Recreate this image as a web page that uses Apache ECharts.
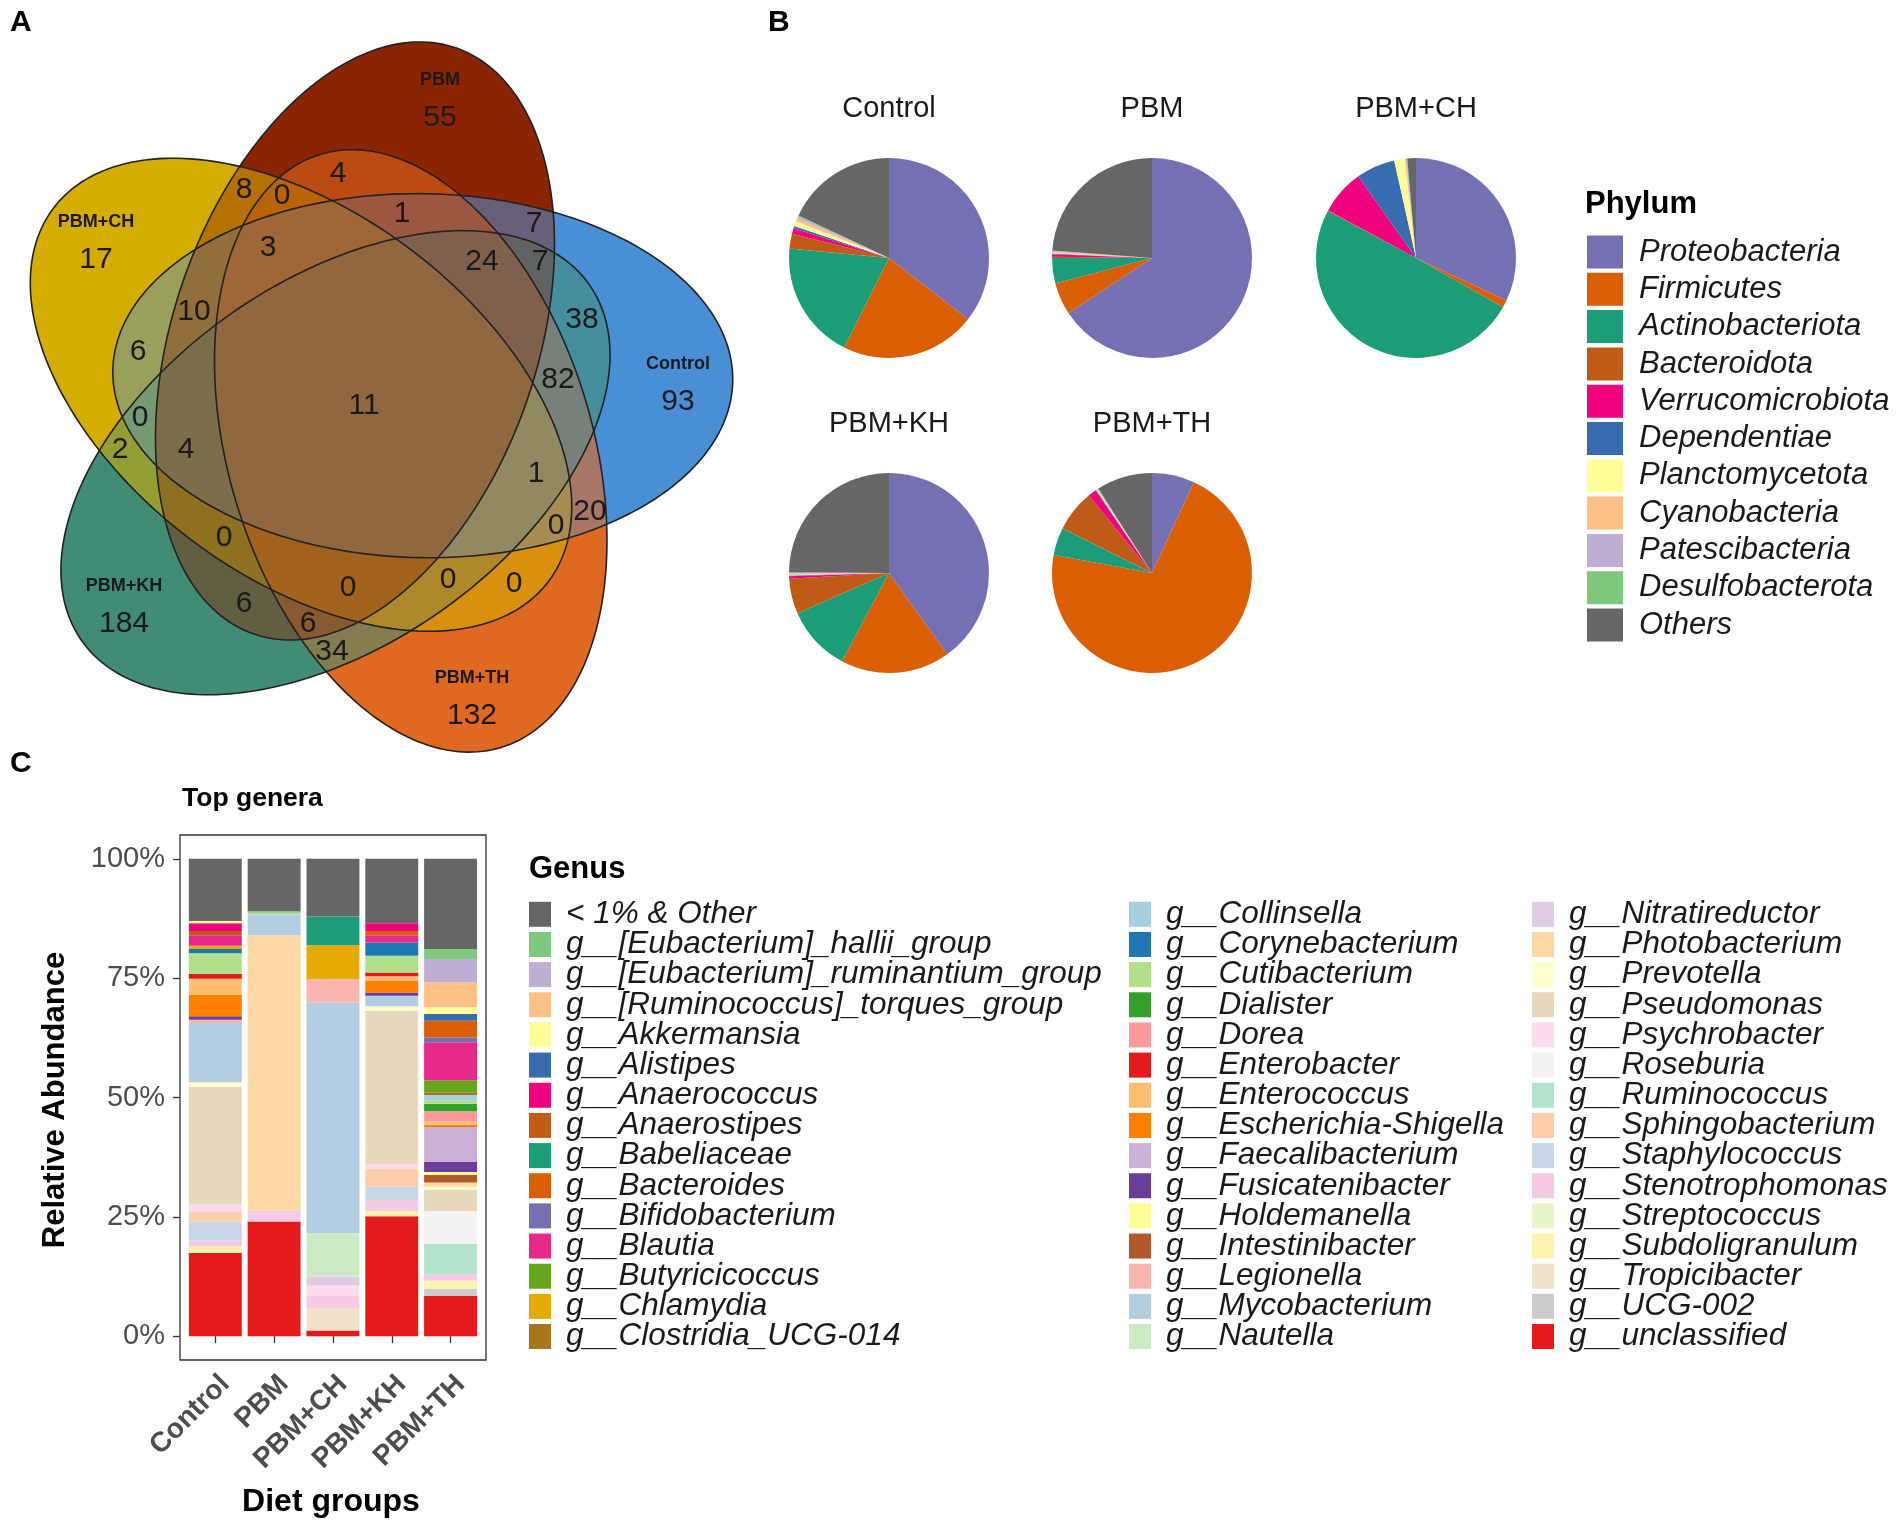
<!DOCTYPE html>
<html>
<head>
<meta charset="utf-8">
<script src="https://cdn.jsdelivr.net/npm/echarts@6/dist/echarts.min.js"></script>
<style>html,body{margin:0;padding:0;background:#fff}#main{width:1904px;height:1529px}</style>
</head>
<body>
<div id="main"></div>
<script>
// ================= DATA =================
// --- Panel A: Venn ---
const vennSets = ['PBM', 'Control', 'PBM+TH', 'PBM+KH', 'PBM+CH'];
const vennSetColors = ['#8B2500', '#4A90D6', '#E06A22', '#418C76', '#D4AE00'];
const vennRegions = [
  ['PBM', 55], ['Control', 93], ['PBM+TH', 132], ['PBM+KH', 184], ['PBM+CH', 17],
  ['PBM&PBM+CH', 8], ['PBM&PBM+TH', 4], ['PBM&Control', 7], ['Control&PBM+KH', 38], ['Control&PBM+CH', 6],
  ['PBM+KH&PBM+CH', 2], ['PBM&PBM+KH', 6], ['PBM+TH&PBM+KH', 34], ['PBM+TH&PBM+CH', 0], ['Control&PBM+TH', 20],
  ['PBM&PBM+TH&PBM+CH', 0], ['PBM&Control&PBM+TH', 1], ['PBM&Control&PBM+KH', 7], ['Control&PBM+TH&PBM+KH', 82],
  ['PBM&Control&PBM+CH', 10], ['Control&PBM+KH&PBM+CH', 0], ['PBM&PBM+KH&PBM+CH', 0], ['PBM&PBM+TH&PBM+KH', 6],
  ['PBM+TH&PBM+KH&PBM+CH', 0], ['Control&PBM+TH&PBM+CH', 0],
  ['PBM&Control&PBM+TH&PBM+CH', 3], ['PBM&Control&PBM+TH&PBM+KH', 24], ['PBM&Control&PBM+KH&PBM+CH', 4],
  ['PBM&PBM+TH&PBM+KH&PBM+CH', 0], ['Control&PBM+TH&PBM+KH&PBM+CH', 1],
  ['PBM&Control&PBM+TH&PBM+KH&PBM+CH', 11]
];

// --- Panel B: phylum pies ---
const pieGroups = ['Control', 'PBM', 'PBM+CH', 'PBM+KH', 'PBM+TH'];
const phyla = ['Proteobacteria', 'Firmicutes', 'Actinobacteriota', 'Bacteroidota', 'Verrucomicrobiota',
  'Dependentiae', 'Planctomycetota', 'Cyanobacteria', 'Patescibacteria', 'Desulfobacterota', 'Others'];
const phylumColors = ['#7570B3', '#D95F02', '#1B9E77', '#BF5B17', '#F0027F', '#386CB0', '#FFFF99', '#FDC086', '#BEAED4', '#7FC97F', '#666666'];
const phylumControl = [35.5, 21.9, 19.1, 2.4, 0.9, 0.4, 0.8, 0.5, 0.3, 0.2, 18.0];
const phylumPBM     = [65.7, 5.2, 4.1, 0.2, 0.4, 0.1, 0.1, 0.2, 0.1, 0.1, 23.8];
const phylumCH      = [32.0, 1.2, 49.6, 0.1, 7.3, 6.3, 1.7, 0.2, 0.1, 0.1, 1.4];
const phylumKH      = [40.1, 17.7, 10.6, 5.7, 0.4, 0.1, 0.1, 0.2, 0.1, 0.1, 24.9];
const phylumTH      = [6.9, 71.0, 4.5, 6.7, 1.4, 0.1, 0.1, 0.1, 0.1, 0.1, 9.0];

// --- Panel C: genus stacked bars ---
const dietGroups = ['Control', 'PBM', 'PBM+CH', 'PBM+KH', 'PBM+TH'];
const yTicks = [0, 25, 50, 75, 100];
const genera = ['< 1% & Other', 'g__[Eubacterium]_hallii_group', 'g__[Eubacterium]_ruminantium_group',
  'g__[Ruminococcus]_torques_group', 'g__Akkermansia', 'g__Alistipes', 'g__Anaerococcus', 'g__Anaerostipes',
  'g__Babeliaceae', 'g__Bacteroides', 'g__Bifidobacterium', 'g__Blautia', 'g__Butyricicoccus', 'g__Chlamydia',
  'g__Clostridia_UCG-014', 'g__Collinsella', 'g__Corynebacterium', 'g__Cutibacterium', 'g__Dialister', 'g__Dorea',
  'g__Enterobacter', 'g__Enterococcus', 'g__Escherichia-Shigella', 'g__Faecalibacterium', 'g__Fusicatenibacter',
  'g__Holdemanella', 'g__Intestinibacter', 'g__Legionella', 'g__Mycobacterium', 'g__Nautella',
  'g__Nitratireductor', 'g__Photobacterium', 'g__Prevotella', 'g__Pseudomonas', 'g__Psychrobacter',
  'g__Roseburia', 'g__Ruminococcus', 'g__Sphingobacterium', 'g__Staphylococcus', 'g__Stenotrophomonas',
  'g__Streptococcus', 'g__Subdoligranulum', 'g__Tropicibacter', 'g__UCG-002', 'g__unclassified'];
const genusColors = ['#666666', '#7FC97F', '#BEAED4', '#FDC086', '#FFFF99', '#386CB0', '#F0027F', '#BF5B17',
  '#1B9E77', '#D95F02', '#7570B3', '#E7298A', '#66A61E', '#E6AB02', '#A6761D',
  '#A6CEE3', '#1F78B4', '#B2DF8A', '#33A02C', '#FB9A99', '#E31A1C', '#FDBF6F', '#FF7F00', '#CAB2D6', '#6A3D9A', '#FFFF99', '#B15928',
  '#FBB4AE', '#B3CDE3', '#CCEBC5', '#DECBE4', '#FED9A6', '#FFFFCC', '#E5D8BD', '#FDDAEC', '#F2F2F2',
  '#B3E2CD', '#FDCDAC', '#CBD5E8', '#F4CAE4', '#E6F5C9', '#FFF2AE', '#F1E2CC', '#CCCCCC', '#E41A1C'];
const abundControl = [13.0, 0, 0, 0, 0.5, 0, 1.6, 0.9, 0, 0, 0, 2.2, 0, 0.7, 0, 0, 0.9, 4.3, 0, 0, 1.0, 3.4, 4.5, 0, 0.7, 0, 0, 0.7, 12.4, 0, 0, 0, 1.0, 24.6, 1.6, 0, 0, 2.0, 4.0, 1.2, 0, 1.4, 0, 0, 17.4];
const abundPBM     = [10.9, 0.4, 0, 0, 0, 0, 0, 0, 0, 0, 0, 0, 0, 0, 0, 0, 0, 0.3, 0, 0, 0, 0, 0, 0, 0, 0, 0, 0, 4.4, 0, 0, 57.8, 0, 0, 0, 0, 0, 0, 0, 2.2, 0, 0, 0, 0, 24.0];
const abundCH      = [12.1, 0, 0, 0, 0, 0, 0, 0, 6.0, 0, 0, 0, 0, 7.1, 0, 0, 0, 0, 0, 0, 0, 0, 0, 0, 0, 0, 0, 4.9, 48.3, 9.1, 1.9, 0, 0, 0, 2.2, 0, 0, 0, 0, 2.5, 0, 0, 4.7, 0, 1.2];
const abundKH      = [13.5, 0, 0, 0, 0, 0, 1.6, 0, 0, 0.9, 0, 1.5, 0, 0, 0, 0, 2.8, 3.5, 0, 0, 0.8, 0.9, 2.5, 0, 0.7, 0, 0, 0, 2.2, 0, 0, 0, 0.9, 32.2, 0.9, 0, 0, 3.8, 2.8, 2.3, 0, 1.1, 0, 0, 25.1];
const abundTH      = [18.9, 2.1, 4.9, 5.2, 1.4, 1.4, 0, 0, 0, 3.5, 1.0, 8.0, 2.5, 0, 0.6, 1.1, 0, 0.7, 1.6, 2.2, 0, 0.6, 0.5, 7.3, 2.1, 0.6, 1.6, 0, 0, 0, 0, 0.9, 0.7, 4.4, 0, 6.9, 6.4, 0, 0, 1.3, 0, 1.7, 0, 1.5, 8.4];

// ================= LAYOUT =================
const FONT = '"Liberation Sans", Arial, Helvetica, sans-serif';
const TXT = '#1a1a1a';
// Venn geometry: five congruent ellipses rotated by 72 degrees about a common centre
const VG = { cx: 365, cy: 405, off: 64.8, offAng: -8.9, tilt: 19, a: 310, b: 182, step: 72 };
const ell = vennSets.map((s, k) => {
  const oa = (VG.offAng + VG.step * k) * Math.PI / 180;
  const ta = (VG.tilt + VG.step * k) * Math.PI / 180;
  const ux = Math.sin(ta), uy = -Math.cos(ta);
  return { cx: VG.cx + VG.off * Math.sin(oa), cy: VG.cy - VG.off * Math.cos(oa), ux, uy, nx: -uy, ny: ux };
});
function ellEval(e, x, y) {
  const dx = x - e.cx, dy = y - e.cy;
  const s = dx * e.ux + dy * e.uy, t = dx * e.nx + dy * e.ny;
  const a2 = VG.a * VG.a, b2 = VG.b * VG.b;
  const q = s * s / a2 + t * t / b2;
  const gs = s / a2, gt = t / b2;
  const g = 2 * Math.sqrt(gs * gs + gt * gt) || 1e-9;
  return { q, d: Math.abs(q - 1) / g };
}
// label anchor of every region = its most interior sampled point
const poles = {};
for (let y = 30; y <= 770; y += 2) {
  for (let x = 20; x <= 750; x += 2) {
    let mask = 0, margin = Infinity;
    for (let k = 0; k < ell.length; k++) {
      const r = ellEval(ell[k], x, y);
      if (r.q < 1) mask |= (1 << k);
      if (r.d < margin) margin = r.d;
    }
    if (!mask) continue;
    if (!poles[mask] || margin > poles[mask].m) poles[mask] = { m: margin, x, y };
  }
}
const vennLabels = vennRegions.map(([key, count]) => {
  const sets = key.split('&');
  const mask = sets.reduce((m, n) => m | (1 << vennSets.indexOf(n)), 0);
  const p = poles[mask] || { x: VG.cx, y: VG.cy };
  return { value: [p.x, p.y], count, sets };
});

function ellipseRenderer(alpha, strokeOnly) {
  return function (params, api) {
    const k = api.value(0);
    const e = ell[k];
    const pts = [];
    for (let i = 0; i < 240; i++) {
      const t = i / 240 * Math.PI * 2, c = Math.cos(t), s = Math.sin(t);
      pts.push(api.coord([e.cx + VG.a * c * e.ux + VG.b * s * e.nx, e.cy + VG.a * c * e.uy + VG.b * s * e.ny]));
    }
    return {
      type: 'polygon', shape: { points: pts },
      style: strokeOnly ? { fill: 'none', stroke: '#222', lineWidth: 1.6 }
                        : { fill: vennSetColors[k], opacity: alpha }
    };
  };
}
const orderPass1 = [0, 1, 2, 3, 4].map(k => [k, 0]);
const orderPass2 = [4, 3, 2, 1, 0].map(k => [k, 0]);
const orderPass3 = [4, 3, 1, 2, 0].map(k => [k, 0]);

// ================= OPTION =================
const pieData = [phylumControl, phylumPBM, phylumCH, phylumKH, phylumTH];
const pieCenters = [[889, 258], [1152, 258], [1416, 258], [889, 573], [1152, 573]];
const pieSeries = pieGroups.map((g, i) => ({
  type: 'pie', name: g, center: pieCenters[i], radius: 100, startAngle: 90, clockwise: true,
  silent: true, label: { show: false }, labelLine: { show: false }, emphasis: { disabled: true },
  itemStyle: { borderWidth: 0 },
  data: phyla.map((p, j) => ({ name: p, value: pieData[i][j], itemStyle: { color: phylumColors[j] } }))
}));

const groupAbund = [abundControl, abundPBM, abundCH, abundKH, abundTH];
const barSeries = genera.map((g, i) => ({
  type: 'bar', name: g, stack: 'genus', xAxisIndex: 2, yAxisIndex: 2, barWidth: '90%',
  silent: true, emphasis: { disabled: true }, itemStyle: { color: genusColors[i] },
  data: groupAbund.map(a => a[i])
})).reverse();

function txt(text, x, y, size, opts) {
  opts = opts || {};
  return {
    type: 'text', x, y, rotation: opts.rotation || 0, silent: true,
    style: { text, font: (opts.bold ? 'bold ' : '') + size + 'px ' + FONT, fill: opts.color || TXT,
             align: opts.align || 'left', verticalAlign: 'middle' }
  };
}
const genusLegendBase = {
  orient: 'vertical', top: 898.3, padding: 0, itemWidth: 22, itemHeight: 25, itemGap: -1.84,
  icon: 'rect', selectedMode: false,
  textStyle: { fontFamily: FONT, fontSize: 31.5, fontStyle: 'italic', color: TXT, padding: [0, 0, 0, 10] }
};

const option = {
  backgroundColor: '#fff',
  animation: false,
  grid: [
    { left: 0, top: 0, width: 1904, height: 1529, show: false },
    { left: 180, top: 835, width: 306, height: 525, show: true, borderColor: '#333', borderWidth: 1.3, backgroundColor: '#fff' },
    { left: 185.9, top: 835, width: 294.1, height: 525, show: false }
  ],
  xAxis: [
    { gridIndex: 0, type: 'value', min: 0, max: 1904, show: false },
    { gridIndex: 1, type: 'value', min: 0, max: 1, show: false },
    { gridIndex: 2, type: 'category', data: dietGroups, boundaryGap: true,
      axisLine: { show: false },
      axisTick: { show: true, alignWithLabel: true, length: 7, lineStyle: { color: '#333', width: 1.3 } },
      axisLabel: { interval: 0, rotate: 45, margin: 10, align: 'right', verticalAlign: 'top',
        fontFamily: FONT, fontSize: 28, fontWeight: 'bold', color: '#4d4d4d' } }
  ],
  yAxis: [
    { gridIndex: 0, type: 'value', min: 0, max: 1529, inverse: true, show: false },
    { gridIndex: 1, type: 'value', min: -5, max: 105,
      axisLine: { show: false }, splitLine: { show: false },
      axisTick: { show: true, customValues: yTicks, length: 7, lineStyle: { color: '#333', width: 1.3 } },
      axisLabel: { customValues: yTicks, formatter: '{value}%', margin: 15, fontFamily: FONT, fontSize: 29, color: '#4d4d4d' } },
    { gridIndex: 2, type: 'value', min: -5, max: 105, show: false }
  ],
  legend: [
    { data: phyla, orient: 'vertical', left: 1587, top: 235.5, padding: 0, itemWidth: 36, itemHeight: 33, itemGap: 4.3,
      icon: 'rect', selectedMode: false,
      textStyle: { fontFamily: FONT, fontSize: 31, fontStyle: 'italic', color: TXT, padding: [0, 0, 0, 11] } },
    Object.assign({}, genusLegendBase, { left: 529, data: genera.slice(0, 15) }),
    Object.assign({}, genusLegendBase, { left: 1129, data: genera.slice(15, 30) }),
    Object.assign({}, genusLegendBase, { left: 1532, data: genera.slice(30, 45) })
  ],
  graphic: { elements: [
    txt('A', 10, 23, 30, { bold: true, color: '#000' }),
    txt('B', 768, 23, 30, { bold: true, color: '#000' }),
    txt('C', 10, 764, 30, { bold: true, color: '#000' }),
    ...pieGroups.map((g, i) => txt(g, pieCenters[i][0], pieCenters[i][1] - 149, 29, { align: 'center' })),
    txt('Phylum', 1585, 204, 31, { bold: true, color: '#000' }),
    txt('Genus', 529, 869, 31, { bold: true, color: '#000' }),
    txt('Top genera', 182, 799, 26.5, { bold: true, color: '#000' }),
    txt('Relative Abundance', 55, 1100, 31, { bold: true, color: '#000', align: 'center', rotation: Math.PI / 2 }),
    txt('Diet groups', 331, 1502, 32, { bold: true, color: '#000', align: 'center' })
  ] },
  series: [
    { type: 'custom', xAxisIndex: 0, yAxisIndex: 0, z: 1, silent: true, data: orderPass1, renderItem: ellipseRenderer(1, false) },
    { type: 'custom', xAxisIndex: 0, yAxisIndex: 0, z: 2, silent: true, data: orderPass2, renderItem: ellipseRenderer(0.35, false) },
    { type: 'custom', xAxisIndex: 0, yAxisIndex: 0, z: 3, silent: true, data: orderPass3, renderItem: ellipseRenderer(0.22, false) },
    { type: 'custom', xAxisIndex: 0, yAxisIndex: 0, z: 4, silent: true, data: orderPass1, renderItem: ellipseRenderer(1, true) },
    { type: 'custom', xAxisIndex: 0, yAxisIndex: 0, z: 5, silent: true, data: vennLabels.map(d => d.value),
      renderItem: function (params, api) {
        const d = vennLabels[params.dataIndex];
        const pt = api.coord(d.value);
        const num = { type: 'text', x: pt[0], y: pt[1], style: { text: String(d.count), font: '30px ' + FONT, fill: TXT, align: 'center', verticalAlign: 'middle' } };
        if (d.sets.length === 1) {
          num.y = pt[1] + 18;
          return { type: 'group', children: [
            { type: 'text', x: pt[0], y: pt[1] - 20, style: { text: d.sets[0], font: 'bold 18px ' + FONT, fill: TXT, align: 'center', verticalAlign: 'middle' } },
            num ] };
        }
        return num;
      } },
    ...pieSeries,
    ...barSeries
  ]
};
const chart = echarts.init(document.getElementById('main'), null, { renderer: 'canvas' });
chart.setOption(option);
</script>
</body>
</html>
